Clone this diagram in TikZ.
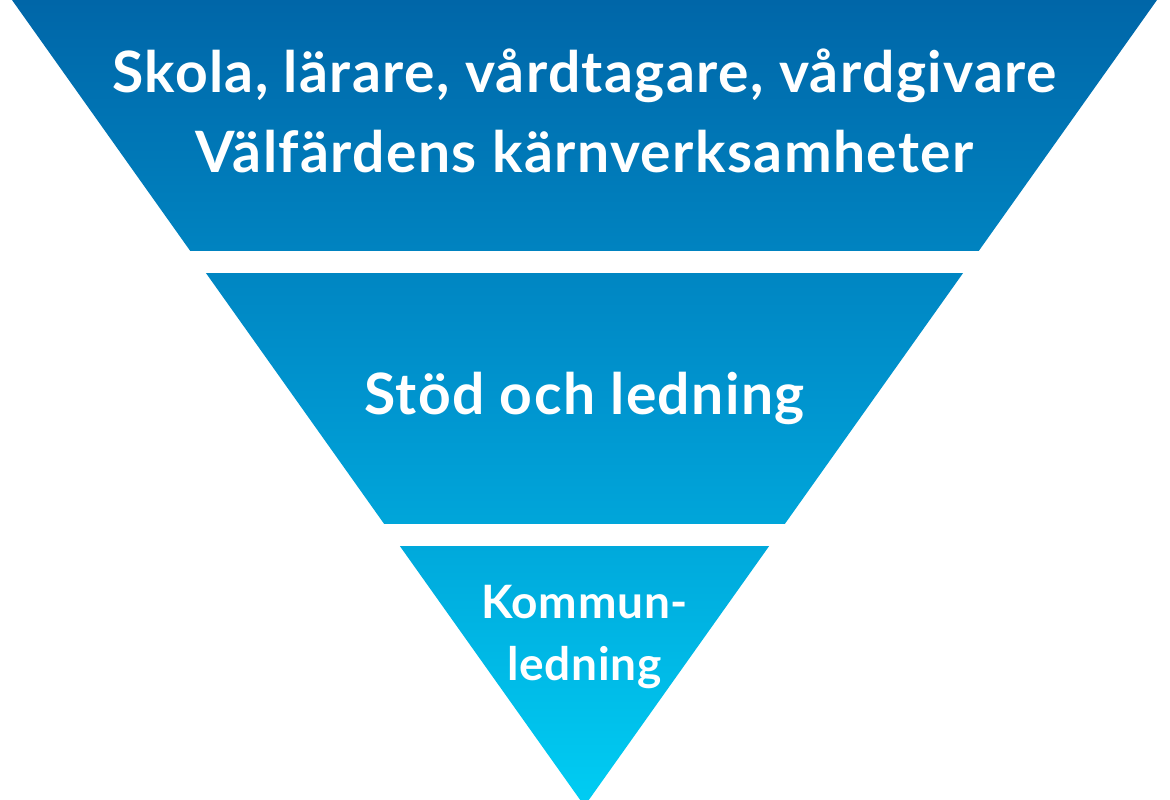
\documentclass[tikz,border=0pt]{standalone}
\usepackage{fontspec}
\setmainfont{Lato}
\usepackage{tikz}
\usetikzlibrary{positioning}
\definecolor{topblue}{HTML}{0066A8}
\definecolor{midblue}{HTML}{0095CF}
\definecolor{lowblue}{HTML}{00CDF3}
\tikzstyle{label} = [text=white, align=center, font=\bfseries]
\tikzstyle{gap} = [fill=white, draw=none]
\newcommand{\bigtext}{\fontsize{57}{80}\selectfont\bfseries\addfontfeatures{LetterSpace=2.5}}

\begin{document}
\begin{tikzpicture}[x=1pt, y=-1pt]
\useasboundingbox (0,0) rectangle (1170,800);
\shade [top color=topblue, bottom color=lowblue, middle color=midblue] (12,0) -- (1157,0) -- (584.5,806) -- cycle;
\fill [gap] (0,251) rectangle (1170,273);
\fill [gap] (0,524) rectangle (1170,546);

\node [label, font=\bigtext] (top) at (584.5,111) {Skola, lärare, vårdtagare, vårdgivare\\Välfärdens kärnverksamheter};
\node [label, font=\bigtext] (mid) at (584.5,398) {Stöd och ledning};
\node [label, font=\fontsize{46}{62}\selectfont\bfseries\addfontfeatures{LetterSpace=1.5}] (low) at (584.5,637) {Kommun-\\ledning};
\end{tikzpicture}
\end{document}
